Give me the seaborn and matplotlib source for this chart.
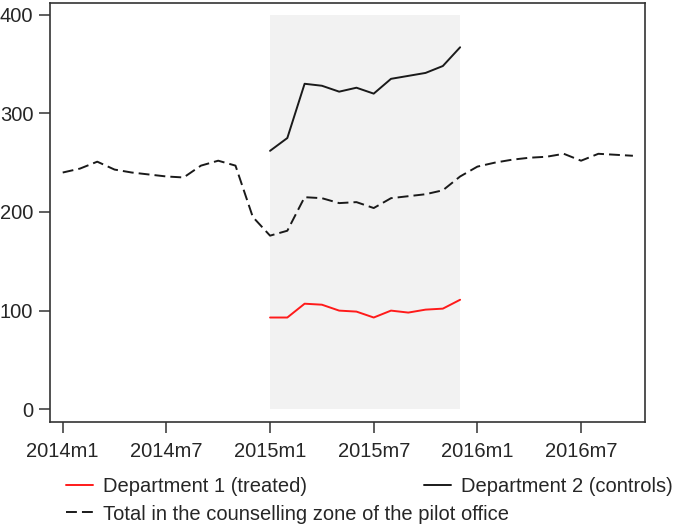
import numpy as np
import pandas as pd
import matplotlib
matplotlib.use("Agg")
import matplotlib.pyplot as plt
import seaborn as sns

# monthly series, 2014m1 .. 2016m10
months = [f"{y}m{m}" for y in (2014, 2015, 2016) for m in range(1, 13)][:34]
total = [240, 244, 251, 243, 240, 238, 236, 235, 247, 252, 247, 195,
         176, 181, 215, 214, 209, 210, 204, 214, 216, 218, 222, 236,
         246, 250, 253, 255, 256, 259, 252, 259, 258, 257]
# departments only observed during the pilot year (2015m1 .. 2015m12)
pilot_months = months[12:24]
dept1 = [93, 93, 107, 106, 100, 99, 93, 100, 98, 101, 102, 111]
dept2 = [262, 275, 330, 328, 322, 326, 320, 335, 338, 341, 348, 367]

tick_labels = ["2014m1", "2014m7", "2015m1", "2015m7", "2016m1", "2016m7"]

sns.set_style("ticks")
plt.rcParams['font.family'] = ['Liberation Sans', 'DejaVu Sans']
plt.rcParams['font.size'] = 14.5

df_total = pd.DataFrame({'t': [months.index(m) for m in months], 'n': total})
df_dep = pd.DataFrame({'t': [months.index(m) for m in pilot_months],
                       'd1': dept1, 'd2': dept2})

LW = 1.4
DASH = (5.6, 2.6)

fig = plt.figure(figsize=(6.85, 5.29), dpi=100)
ax = fig.add_axes([0.073, 0.2029, 0.8686, 0.792])

# shaded pilot period
ax.fill_between([df_dep['t'].min(), df_dep['t'].max()], 0, 400,
                color='#f2f2f2', lw=0, zorder=0)

sns.lineplot(data=df_dep, x='t', y='d1', ax=ax, color='#ff1a1a', lw=LW)
sns.lineplot(data=df_dep, x='t', y='d2', ax=ax, color='#1a1a1a', lw=LW)
sns.lineplot(data=df_total, x='t', y='n', ax=ax, color='#1a1a1a', lw=LW)
ax.lines[-1].set_dashes(DASH)

ax.set_xlim(-0.735, 33.7)
ax.set_ylim(-12.6, 412.2)
ax.set_xticks([months.index(l) for l in tick_labels])
ax.set_xticklabels(tick_labels)
ax.set_yticks([0, 100, 200, 300, 400])
ax.set_xlabel('')
ax.set_ylabel('')
for s in ax.spines.values():
    s.set_color('#333333')
    s.set_linewidth(1.2)
ax.tick_params(length=8, width=1.1, color='#333333', labelsize=14.5, pad=4)
ax.tick_params(axis='x', pad=7)

# legend, Stata style: two items on first row, one on second
h1, = ax.plot([], [], color='#ff1a1a', lw=LW)
h2, = ax.plot([], [], color='#1a1a1a', lw=LW)
h3, = ax.plot([], [], color='#1a1a1a', lw=LW, dashes=DASH)
kw = dict(frameon=False, borderpad=0, borderaxespad=0, handlelength=1.35,
          handletextpad=0.5, fontsize=14.5, loc='center left')
leg1 = fig.legend([h1, h2], ['Department 1 (treated)', 'Department 2 (controls)'],
                  ncol=2, columnspacing=5.8,
                  bbox_to_anchor=(66 / 685, 1 - 486.7 / 529), **kw)
leg2 = fig.legend([h3], ['Total in the counselling zone of the pilot office'],
                  bbox_to_anchor=(66 / 685, 1 - 514 / 529), **kw)

plt.savefig('out.png', dpi=100)
plt.close()
